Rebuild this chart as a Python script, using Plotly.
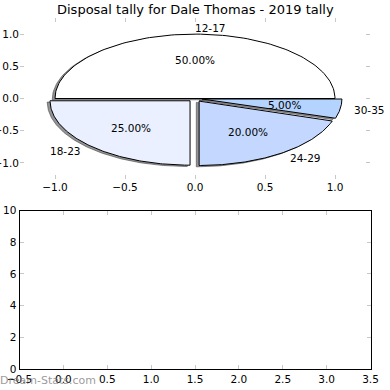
import numpy as np
import plotly.graph_objects as go

title = "Disposal tally for Dale Thomas - 2019 tally"
labels = ["12-17", "18-23", "24-29", "30-35"]
values = [10, 5, 4, 1]
colors = ["#FFFFFF", "#EAF0FF", "#C4D8FF", "#B4D4FF"]
explode = [0.0, 0.05, 0.05, 0.05]
top_xticks = [-1.0, -0.5, 0.0, 0.5, 1.0]
top_yticks = [-1.0, -0.5, 0.0, 0.5, 1.0]
bot_xticks = [-0.5, 0.0, 0.5, 1.0, 1.5, 2.0, 2.5, 3.0, 3.5]
bot_yticks = [0, 2, 4, 6, 8, 10]
watermark = "Dream-Stats.com"

W = H = 390
FONT = "DejaVu Sans"

fig = go.Figure()

vals = np.array(values, dtype=float)
fracs = vals / vals.sum()
starts = np.concatenate([[0.0], np.cumsum(fracs)[:-1]]) * 360.0
ends = np.cumsum(fracs) * 360.0

wedges = []
for lab, f, t1, t2, col, ex in zip(labels, fracs, starts, ends, colors, explode):
    mid = np.deg2rad((t1 + t2) / 2)
    cx, cy = ex * np.cos(mid), ex * np.sin(mid)
    th = np.deg2rad(np.linspace(t1, t2, 120))
    xs = np.concatenate([[cx], cx + np.cos(th), [cx]])
    ys = np.concatenate([[cy], cy + np.sin(th), [cy]])
    wedges.append((lab, f, mid, cx, cy, xs, ys, col))

# shadows
for lab, f, mid, cx, cy, xs, ys, col in wedges:
    fig.add_trace(go.Scatter(x=xs - 0.02, y=ys - 0.02, mode="lines", fill="toself",
                             fillcolor="rgba(60,60,60,0.55)",
                             line=dict(color="rgba(60,60,60,0.55)", width=1),
                             hoverinfo="skip", showlegend=False, xaxis="x", yaxis="y"))
# wedges
for lab, f, mid, cx, cy, xs, ys, col in wedges:
    fig.add_trace(go.Scatter(x=xs, y=ys, mode="lines", fill="toself", fillcolor=col,
                             line=dict(color="black", width=1), name=lab,
                             hoverinfo="skip", showlegend=False, xaxis="x", yaxis="y"))

annotations = []
for lab, f, mid, cx, cy, xs, ys, col in wedges:
    lx = cx + 1.1 * np.cos(mid)
    ly = cy + 1.1 * np.sin(mid)
    annotations.append(dict(x=lx, y=ly, xref="x", yref="y", text=lab, showarrow=False,
                            xanchor="left" if lx > 0 else "right", yanchor="middle",
                            xshift=-2 if lx > 0 else 2,
                            font=dict(family=FONT, size=10.5, color="black")))
    px = cx + 0.6 * np.cos(mid)
    py = cy + 0.6 * np.sin(mid)
    annotations.append(dict(x=px, y=py, xref="x", yref="y", text="%.2f%%" % (f * 100),
                            showarrow=False, xanchor="center", yanchor="middle",
                            font=dict(family=FONT, size=10.5, color="black")))

annotations.append(dict(x=0.5 * (20 + 370) / W, y=1 - 9 / H, xref="paper", yref="paper",
                        text=title, showarrow=False, xanchor="center", yanchor="middle",
                        font=dict(family=FONT, size=13, color="black")))
annotations.append(dict(x=0.0, y=1 - 380 / H, xref="paper", yref="paper",
                        text=watermark, showarrow=False, xanchor="left", yanchor="middle",
                        xshift=-2,
                        font=dict(family=FONT, size=11, color="rgba(120,120,120,0.75)")))

tick_font = dict(family=FONT, size=10.5, color="black")
tickgray = "#C8C8C8"

common = dict(ticks="inside", ticklen=4, tickcolor=tickgray, mirror="ticks",
              showgrid=False, zeroline=False, tickfont=tick_font, automargin=False)

fig.update_layout(
    width=W, height=H, margin=dict(l=0, r=0, t=0, b=0, autoexpand=False),
    paper_bgcolor="white", plot_bgcolor="rgba(0,0,0,0)",
    showlegend=False, annotations=annotations,
    xaxis=dict(domain=[20 / W, 370 / W], range=[-1.25, 1.25], anchor="y",
               tickvals=top_xticks, tickformat=".1f", showline=False, **common),
    yaxis=dict(domain=[1 - 179 / H, 1 - 18 / H], range=[-1.25, 1.25], anchor="x",
               tickvals=top_yticks, tickformat=".1f", showline=False, **common),
    xaxis2=dict(domain=[19.5 / W, 370.5 / W], range=[-0.5, 3.5], anchor="y2",
                tickvals=bot_xticks, tickformat=".1f", showline=True, linecolor="black",
                linewidth=1, **common),
    yaxis2=dict(domain=[1 - 369 / H, 1 - 210.5 / H], range=[0, 10], anchor="x2",
                tickvals=bot_yticks, showline=True, linecolor="black",
                linewidth=1, **common),
)

# invisible trace to activate bottom axes
fig.add_trace(go.Scatter(x=[None], y=[None], xaxis="x2", yaxis="y2", showlegend=False,
                         hoverinfo="skip"))

fig.write_html("out.html", config={"displayModeBar": False},
               post_script="document.body.style.margin='0';document.body.style.padding='0';")
